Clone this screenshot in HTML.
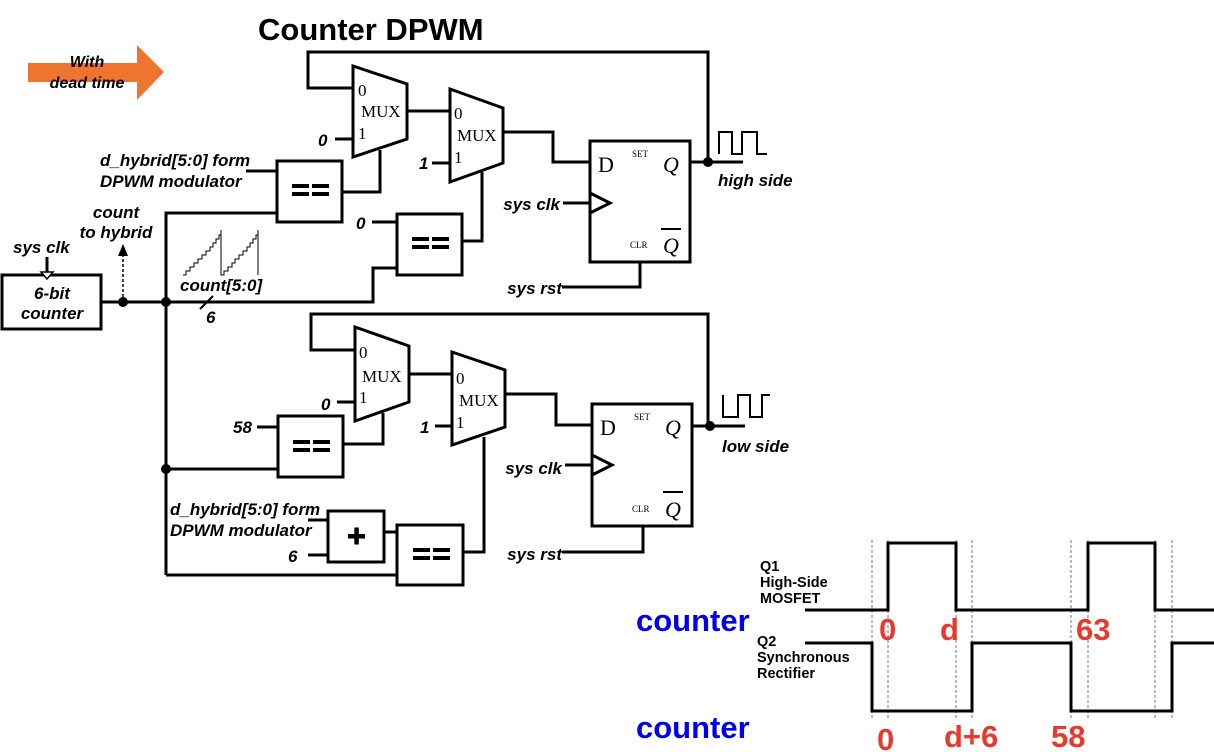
<!DOCTYPE html>
<html><head><meta charset="utf-8"><style>
html,body{margin:0;padding:0;background:#fff;}
svg{display:block;}
.bi{font-family:"Liberation Sans",sans-serif;font-weight:bold;font-style:italic;}
.sr{font-family:"Liberation Serif",serif;}
</style></head><body>
<svg width="1214" height="752" viewBox="0 0 1214 752" xmlns="http://www.w3.org/2000/svg">
<g fill="none" stroke="#000" stroke-width="3">
<polyline points="353,88 308,88 308,52 708,52 708,162"/>
<polygon points="353,66 407,84 407,139 353,157" fill="#fff"/>
<line x1="335" y1="139" x2="353" y2="139"/>
<polyline points="380,150 380,192 342,192"/>
<rect x="277" y="161" width="65" height="61"/>
<line x1="246" y1="171" x2="277" y2="171"/>
<polyline points="166,302 166,213 277,213"/>
<line x1="101" y1="302" x2="166" y2="302"/>
<polyline points="166,302 373,302 373,268 397,268"/>
<rect x="397" y="214" width="65" height="61"/>
<line x1="372" y1="222" x2="397" y2="222"/>
<polyline points="462,241 482,241 482,172"/>
<polygon points="450,89 503,108 503,163 450,182" fill="#fff"/>
<line x1="407" y1="111" x2="450" y2="111"/>
<line x1="432" y1="163" x2="450" y2="163"/>
<polyline points="503,132 553,132 553,162 590,162"/>
<rect x="590" y="141" width="100" height="121"/>
<polyline points="590,193 610,203 590,213"/>
<line x1="563" y1="203" x2="590" y2="203"/>
<polyline points="640,262 640,287 562,287"/>
<line x1="690" y1="162" x2="743" y2="162"/>
<polyline points="719,154 719,132 732,132 732,154 742,154 742,132 757,132 757,154 767,154" stroke-width="2"/>
<rect x="2" y="275" width="99" height="54"/>
<line x1="47" y1="257" x2="47" y2="275"/>
<line x1="166" y1="302" x2="166" y2="575"/>
<polyline points="355,350 311,350 311,314 708,314 708,426"/>
<polygon points="355,327 409,346 409,402 355,421" fill="#fff"/>
<line x1="337" y1="402" x2="355" y2="402"/>
<rect x="278" y="416" width="65" height="61"/>
<line x1="257" y1="427" x2="278" y2="427"/>
<polyline points="343,444 383,444 383,413"/>
<line x1="166" y1="469" x2="278" y2="469"/>
<line x1="409" y1="374" x2="452" y2="374"/>
<polygon points="452,352 505,370 505,427 452,445" fill="#fff"/>
<line x1="435" y1="426" x2="452" y2="426"/>
<polyline points="484,437 484,552 463,552"/>
<rect x="397" y="525" width="66" height="60"/>
<rect x="328" y="511" width="56" height="51"/>
<line x1="384" y1="532" x2="397" y2="532"/>
<line x1="308" y1="520" x2="328" y2="520"/>
<line x1="308" y1="555" x2="328" y2="555"/>
<line x1="166" y1="575" x2="397" y2="575"/>
<polyline points="505,394 556,394 556,425 592,425"/>
<rect x="592" y="404" width="100" height="122"/>
<polyline points="592,455 612,465 592,475"/>
<line x1="565" y1="465" x2="592" y2="465"/>
<polyline points="643,526 643,552 562,552"/>
<line x1="692" y1="426" x2="745" y2="426"/>
<polyline points="723,395 723,417 738,417 738,395 750,395 750,417 762,417 762,395 770,395" stroke-width="2"/>
</g>
<g fill="none" stroke="#000" stroke-width="1">
<polyline points="183,275 186,275 186,271 190,271 190,267 194,267 194,263 198,263 198,259 202,259 202,255 206,255 206,251 210,251 210,247 213,247 213,243 216,243 216,239 219,239 219,235 221,235 221,230 221,275 224,275 224,271 228,271 228,267 232,267 232,263 235,263 235,259 239,259 239,255 243,255 243,251 247,251 247,247 250,247 250,243 253,243 253,239 256,239 256,235 258,235 258,230 258,275"/>
</g>
<line x1="200" y1="309" x2="213" y2="296" stroke="#000" stroke-width="2"/>
<line x1="123" y1="302" x2="123" y2="256" stroke="#000" stroke-width="1.5" stroke-dasharray="3,2"/>
<polygon points="118,256 128,256 123,244" fill="#000"/>
<polygon points="41,272 53,272 47,279" fill="#fff" stroke="#000" stroke-width="1.5"/>
<g fill="#000">
<circle cx="123" cy="302" r="5"/><circle cx="166" cy="302" r="5"/>
<circle cx="166" cy="469" r="5"/><circle cx="708" cy="162" r="5"/><circle cx="710" cy="426" r="5"/>
</g>
<g fill="#000">
<rect x="292" y="184" width="17" height="4"/><rect x="312" y="184" width="17" height="4"/>
<rect x="292" y="192" width="17" height="4"/><rect x="312" y="192" width="17" height="4"/>
<rect x="412" y="237" width="17" height="4"/><rect x="432" y="237" width="17" height="4"/>
<rect x="412" y="245" width="17" height="4"/><rect x="432" y="245" width="17" height="4"/>
<rect x="293" y="440" width="17" height="4"/><rect x="313" y="440" width="17" height="4"/>
<rect x="293" y="448" width="17" height="4"/><rect x="313" y="448" width="17" height="4"/>
<rect x="413" y="548" width="17" height="4"/><rect x="433" y="548" width="17" height="4"/>
<rect x="413" y="556" width="17" height="4"/><rect x="433" y="556" width="17" height="4"/>
<rect x="348" y="534" width="17" height="4.5"/><rect x="354.3" y="527.5" width="4.5" height="17"/>
</g>
<polygon points="28,63 137,63 137,45 164,72 137,100 137,82 28,82" fill="#ef7430"/>
<text x="87" y="67" class="bi" font-size="16" text-anchor="middle">With</text>
<text x="87" y="88" class="bi" font-size="16" text-anchor="middle">dead time</text>
<text x="258" y="40" font-family="Liberation Sans,sans-serif" font-weight="bold" font-size="31">Counter DPWM</text>
<g class="sr" font-size="17">
<text x="358" y="96">0</text><text x="361" y="117">MUX</text><text x="358" y="139">1</text>
<text x="454" y="119">0</text><text x="457" y="141">MUX</text><text x="454" y="163">1</text>
<text x="359" y="358">0</text><text x="362" y="382">MUX</text><text x="359" y="403">1</text>
<text x="456" y="384">0</text><text x="459" y="406">MUX</text><text x="456" y="428">1</text>
<text x="598" y="172" font-size="22">D</text><text x="632" y="157" font-size="9">SET</text>
<text x="663" y="172" font-size="22" font-style="italic">Q</text>
<text x="630" y="248" font-size="9">CLR</text><text x="663" y="253" font-size="22" font-style="italic">Q</text>
<text x="600" y="435" font-size="22">D</text><text x="634" y="420" font-size="9">SET</text>
<text x="665" y="435" font-size="22" font-style="italic">Q</text>
<text x="632" y="512" font-size="9">CLR</text><text x="665" y="517" font-size="22" font-style="italic">Q</text>
</g>
<line x1="661" y1="229" x2="681" y2="229" stroke="#000" stroke-width="2"/>
<line x1="663" y1="492" x2="683" y2="492" stroke="#000" stroke-width="2"/>
<g class="bi" font-size="17">
<text x="318" y="146">0</text><text x="419" y="169">1</text><text x="356" y="229">0</text>
<text x="100" y="166">d_hybrid[5:0] form</text><text x="100" y="187">DPWM modulator</text>
<text x="116" y="218" text-anchor="middle">count</text><text x="116" y="238" text-anchor="middle">to hybrid</text>
<text x="13" y="253">sys clk</text>
<text x="52" y="299" text-anchor="middle">6-bit</text><text x="52" y="319" text-anchor="middle">counter</text>
<text x="180" y="291">count[5:0]</text><text x="206" y="323">6</text>
<text x="560" y="210" text-anchor="end">sys clk</text>
<text x="562" y="294" text-anchor="end">sys rst</text>
<text x="718" y="186">high side</text>
<text x="321" y="410">0</text><text x="233" y="433">58</text><text x="420" y="433">1</text>
<text x="170" y="515">d_hybrid[5:0] form</text><text x="170" y="536">DPWM modulator</text>
<text x="288" y="562">6</text>
<text x="562" y="474" text-anchor="end">sys clk</text>
<text x="562" y="560" text-anchor="end">sys rst</text>
<text x="722" y="452">low side</text>
</g>
<g stroke="#777" stroke-width="1" stroke-dasharray="3,2">
<line x1="872" y1="540" x2="872" y2="718"/><line x1="888" y1="540" x2="888" y2="718"/>
<line x1="956" y1="540" x2="956" y2="718"/><line x1="972" y1="540" x2="972" y2="718"/>
<line x1="1071" y1="540" x2="1071" y2="718"/><line x1="1088" y1="540" x2="1088" y2="718"/>
<line x1="1155" y1="540" x2="1155" y2="718"/><line x1="1172" y1="540" x2="1172" y2="718"/>
</g>
<g fill="none" stroke="#000" stroke-width="3">
<polyline points="805,610 888,610 888,543 956,543 956,610 1088,610 1088,543 1155,543 1155,610 1214,610"/>
<polyline points="805,643 872,643 872,711 972,711 972,643 1071,643 1071,711 1172,711 1172,643 1214,643"/>
</g>
<g font-family="Liberation Sans,sans-serif" font-weight="bold" font-size="14.5">
<text x="760" y="571">Q1</text><text x="760" y="587">High-Side</text><text x="760" y="603">MOSFET</text>
<text x="757" y="646">Q2</text><text x="757" y="662">Synchronous</text><text x="757" y="678">Rectifier</text>
</g>
<g font-family="Liberation Sans,sans-serif" font-weight="bold">
<text x="636" y="631" font-size="31" fill="#0000ee">counter</text>
<text x="636" y="738" font-size="31" fill="#0000ee">counter</text>
<g fill="#e8392f" font-size="31">
<text x="879" y="640">0</text><text x="940" y="640">d</text><text x="1076" y="640">63</text>
<text x="877" y="750">0</text><text x="944" y="747">d+6</text><text x="1051" y="747">58</text>
</g>
</g>
</svg>
</body></html>
